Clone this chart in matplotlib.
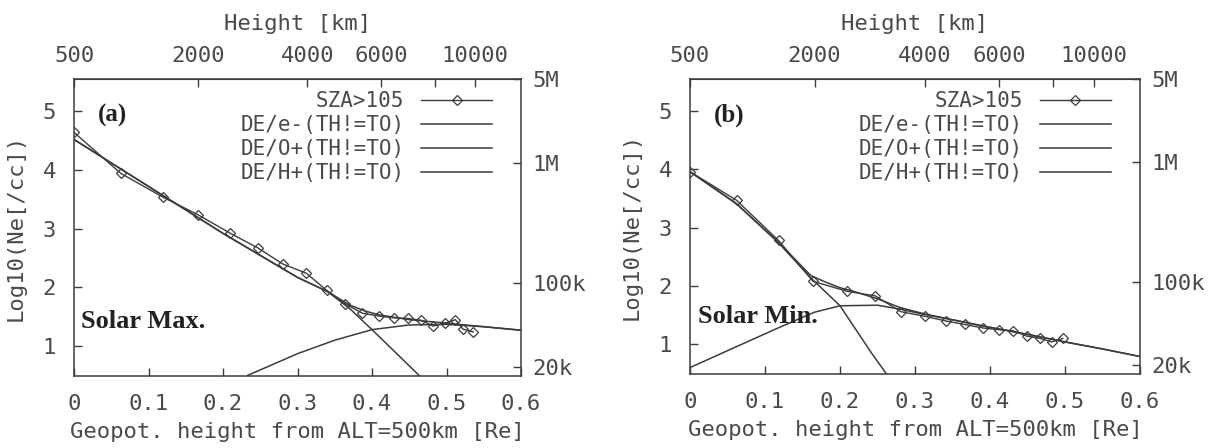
import numpy as np
import matplotlib
matplotlib.use("Agg")
import matplotlib.pyplot as plt
from matplotlib.ticker import NullLocator

plt.rcParams["font.family"] = "DejaVu Sans Mono"

# panel (a) Solar Max.
sza_a_x = [0.0, 0.063, 0.119, 0.166, 0.21, 0.247, 0.28, 0.312, 0.339, 0.364,
           0.387, 0.41, 0.43, 0.448, 0.466, 0.482, 0.498, 0.512, 0.522, 0.536]
sza_a_y = [4.64, 3.94, 3.54, 3.24, 2.92, 2.67, 2.40, 2.24, 1.95, 1.72,
           1.56, 1.51, 1.48, 1.47, 1.44, 1.34, 1.39, 1.45, 1.29, 1.24]
e_a_x = [0.0, 0.1, 0.2, 0.3, 0.34, 0.37, 0.39, 0.41, 0.45, 0.5, 0.55, 0.6]
e_a_y = [4.52, 3.72, 2.92, 2.17, 1.93, 1.70, 1.60, 1.53, 1.45, 1.39, 1.33, 1.27]
o_a_x = [0.0, 0.1, 0.2, 0.3, 0.34, 0.37, 0.4, 0.464]
o_a_y = [4.52, 3.72, 2.92, 2.17, 1.93, 1.64, 1.28, 0.49]
h_a_x = [0.233, 0.3, 0.35, 0.4, 0.45, 0.5, 0.55, 0.6]
h_a_y = [0.50, 0.87, 1.10, 1.28, 1.36, 1.37, 1.33, 1.27]

# panel (b) Solar Min.
sza_b_x = [0.0, 0.062, 0.118, 0.164, 0.209, 0.247, 0.281, 0.313, 0.341, 0.366,
           0.39, 0.412, 0.431, 0.449, 0.467, 0.482, 0.497]
sza_b_y = [3.96, 3.47, 2.78, 2.08, 1.91, 1.83, 1.56, 1.48, 1.40, 1.34,
           1.28, 1.25, 1.23, 1.14, 1.10, 1.04, 1.10]
e_b_x = [0.0, 0.062, 0.118, 0.161, 0.18, 0.2, 0.22, 0.25, 0.28, 0.313,
         0.35, 0.4, 0.45, 0.5, 0.55, 0.6]
e_b_y = [3.96, 3.41, 2.75, 2.18, 2.07, 1.97, 1.90, 1.78, 1.63, 1.52,
         1.42, 1.29, 1.17, 1.04, 0.92, 0.79]
o_b_x = [0.0, 0.062, 0.118, 0.161, 0.2, 0.242, 0.262]
o_b_y = [3.96, 3.41, 2.74, 2.14, 1.66, 0.85, 0.49]
h_b_x = [0.0, 0.05, 0.121, 0.166, 0.2, 0.25, 0.281, 0.313, 0.35, 0.4,
         0.45, 0.5, 0.55, 0.6]
h_b_y = [0.60, 0.89, 1.30, 1.55, 1.66, 1.67, 1.60, 1.51, 1.42, 1.29,
         1.17, 1.04, 0.92, 0.79]

legend_labels = ["SZA>105", "DE/e-(TH!=TO)", "DE/O+(TH!=TO)", "DE/H+(TH!=TO)"]
x_ticks = [0, 0.1, 0.2, 0.3, 0.4, 0.5, 0.6]
x_tick_labels = ["0", "0.1", "0.2", "0.3", "0.4", "0.5", "0.6"]
y_ticks = [1, 2, 3, 4, 5]
km_ticks = [500, 2000, 4000, 6000, 8000, 10000]
km_tick_labels = ["500", "2000", "4000", "6000", "", "10000"]
dens_ticks = [2e4, 1e5, 1e6, 5e6]
dens_tick_labels = ["20k", "100k", "1M", "5M"]

RE = 6371.0
C0 = 1.0 / (1.0 + 500.0 / RE)


def km_to_geo(h):
    h = np.clip(np.asarray(h, dtype=float), -RE + 1.0, None)
    return C0 - 1.0 / (1.0 + h / RE)


def geo_to_km(x):
    x = np.clip(np.asarray(x, dtype=float), None, C0 - 1e-6)
    return RE * (1.0 / (C0 - x) - 1.0)


INK = "#3c3c3c"
TXT = "#4a4a4a"


def draw_panel(ax, sza_x, sza_y, e_x, e_y, o_x, o_y, h_x, h_y, tag, note, note_y):
    ax.plot(sza_x, sza_y, color=INK, lw=1.0, marker="D", ms=5.5, mfc="none",
            mew=0.9, label=legend_labels[0])
    ax.plot(e_x, e_y, color=INK, lw=1.1, label=legend_labels[1])
    ax.plot(o_x, o_y, color=INK, lw=1.1, label=legend_labels[2])
    ax.plot(h_x, h_y, color=INK, lw=1.1, label=legend_labels[3])

    ax.set_xlim(0, 0.6)
    ax.set_ylim(0.49, 5.55)
    ax.set_xticks(x_ticks, x_tick_labels)
    ax.set_yticks(y_ticks)
    ax.tick_params(axis="both", direction="in", length=6, width=1, labelsize=16,
                   pad=13, colors=INK, labelcolor=TXT, top=False, right=False)
    for s in ax.spines.values():
        s.set_color(INK)
        s.set_linewidth(1.1)
    ax.set_xlabel("Geopot. height from ALT=500km [Re]", fontsize=16, color=TXT,
                  labelpad=6)
    ax.set_ylabel("Log10(Ne[/cc])", fontsize=16, color=TXT, labelpad=12)

    top = ax.secondary_xaxis("top", functions=(geo_to_km, km_to_geo))
    top.set_xticks(km_ticks, km_tick_labels)
    top.xaxis.set_minor_locator(NullLocator())
    top.tick_params(direction="in", length=6, width=1, labelsize=16, pad=9,
                    colors=INK, labelcolor=TXT)
    top.spines["top"].set_color(INK)
    top.set_xlabel("Height [km]", fontsize=16, color=TXT, labelpad=12)

    rax = ax.twinx()
    rax.set_yscale("log")
    rax.set_ylim(1.675e4, 5e6)
    rax.set_yticks(dens_ticks, dens_tick_labels)
    rax.yaxis.set_minor_locator(NullLocator())
    rax.tick_params(direction="in", length=6, width=1, labelsize=16, pad=8,
                    colors=INK, labelcolor=TXT)
    for s in rax.spines.values():
        s.set_visible(False)

    ax.text(0.032, 4.93, tag, fontsize=18, fontweight="bold",
            family="Liberation Serif", color="#222222", va="center", ha="left")
    ax.text(0.01, note_y, note, fontsize=19, fontweight="bold",
            family="Liberation Serif", color="#222222", va="center", ha="left")

    ax.legend(loc="upper right", bbox_to_anchor=(0.935, 0.96), frameon=False,
              markerfirst=False, fontsize=15, handlelength=3.4,
              handletextpad=0.8, labelspacing=0.2, borderpad=0,
              borderaxespad=0, numpoints=1, labelcolor=TXT)


fig = plt.figure(figsize=(12.16, 4.48), dpi=100)
ax_a = fig.add_axes([74 / 1216, 72 / 448, 447 / 1216, 297 / 448])
ax_b = fig.add_axes([690 / 1216, 74 / 448, 450 / 1216, 295 / 448])

draw_panel(ax_a, sza_a_x, sza_a_y, e_a_x, e_a_y, o_a_x, o_a_y, h_a_x, h_a_y,
           "(a)", "Solar Max.", 1.42)
draw_panel(ax_b, sza_b_x, sza_b_y, e_b_x, e_b_y, o_b_x, o_b_y, h_b_x, h_b_y,
           "(b)", "Solar Min.", 1.47)

fig.savefig("out.png", dpi=100)
